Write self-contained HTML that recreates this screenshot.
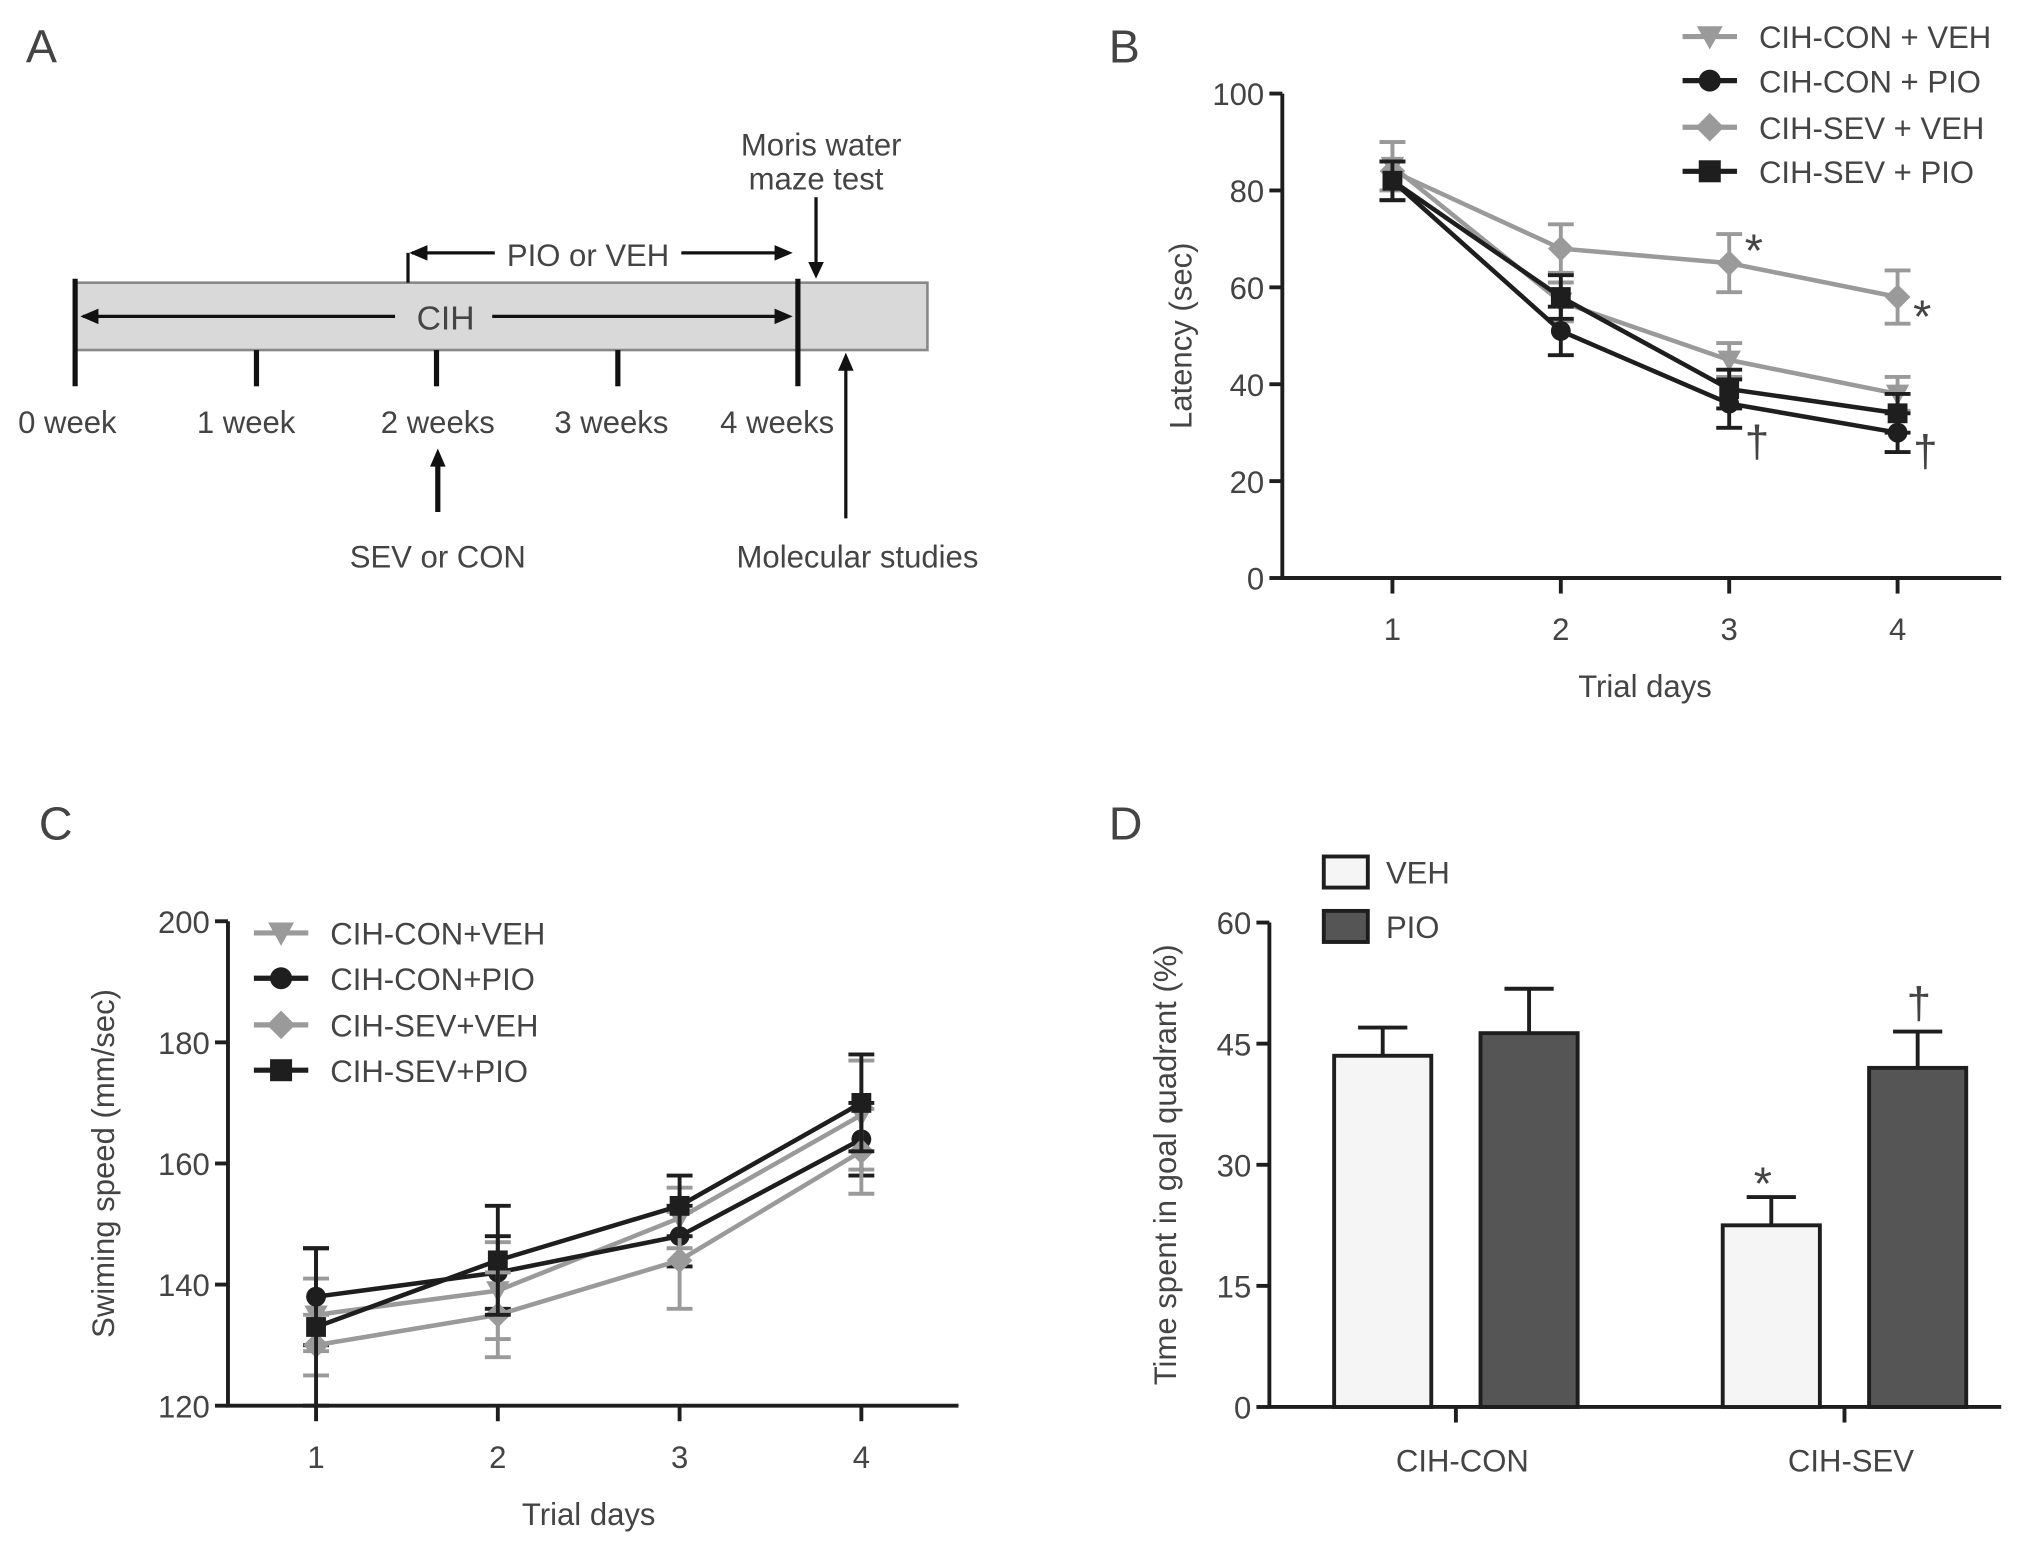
<!DOCTYPE html>
<html><head><meta charset="utf-8"><style>
html,body{margin:0;padding:0;background:#fff}
svg{display:block}
text{font-family:"Liberation Sans",Arial,sans-serif;fill:#444}
</style></head><body>
<svg id="fig" width="2031" height="1542" viewBox="0 0 1568 1190" xmlns="http://www.w3.org/2000/svg">
<g>
<text x="20" y="48" font-size="36">A</text>
<rect x="58" y="218" width="658" height="52" fill="#d9d9d9" stroke="#888" stroke-width="2"/>
<line x1="58" y1="215" x2="58" y2="298" stroke="#111" stroke-width="4"/>
<line x1="616" y1="215" x2="616" y2="298" stroke="#111" stroke-width="4"/>
<line x1="198" y1="270" x2="198" y2="298" stroke="#111" stroke-width="4"/>
<line x1="337" y1="270" x2="337" y2="298" stroke="#111" stroke-width="4"/>
<line x1="477" y1="270" x2="477" y2="298" stroke="#111" stroke-width="4"/>
<line x1="64" y1="244" x2="305" y2="244" stroke="#111" stroke-width="2.5"/>
<polygon points="62,244 76,238 76,250" fill="#111"/>
<line x1="380" y1="244" x2="608" y2="244" stroke="#111" stroke-width="2.5"/>
<polygon points="612,244 598,238 598,250" fill="#111"/>
<text x="344" y="254" font-size="26" text-anchor="middle">CIH</text>
<line x1="315" y1="218" x2="315" y2="195" stroke="#111" stroke-width="2.5"/>
<line x1="318" y1="195" x2="382" y2="195" stroke="#111" stroke-width="2.5"/>
<polygon points="316,195 330,189 330,201" fill="#111"/>
<line x1="526" y1="195" x2="608" y2="195" stroke="#111" stroke-width="2.5"/>
<polygon points="612,195 598,189 598,201" fill="#111"/>
<text x="454" y="205" font-size="24" text-anchor="middle">PIO or VEH</text>
<text x="634" y="120" font-size="24" text-anchor="middle">Moris water</text>
<text x="630" y="146" font-size="24" text-anchor="middle">maze test</text>
<line x1="630" y1="152" x2="630" y2="205" stroke="#111" stroke-width="2.5"/>
<polygon points="630,215 624,202 636,202" fill="#111"/>
<g font-size="24" text-anchor="middle">
<text x="52" y="334">0 week</text><text x="190" y="334">1 week</text><text x="338" y="334">2 weeks</text><text x="472" y="334">3 weeks</text><text x="600" y="334">4 weeks</text>
</g>
<line x1="338" y1="395" x2="338" y2="358" stroke="#111" stroke-width="4"/>
<polygon points="338,346 332,360 344,360" fill="#111"/>
<text x="338" y="438" font-size="24" text-anchor="middle">SEV or CON</text>
<line x1="653" y1="400" x2="653" y2="284" stroke="#111" stroke-width="2.5"/>
<polygon points="653,272 647,286 659,286" fill="#111"/>
<text x="662" y="438" font-size="24" text-anchor="middle">Molecular studies</text>
</g>
<text x="856" y="48" font-size="36">B</text>
<text x="30" y="648" font-size="36">C</text>
<text x="856" y="648" font-size="36">D</text>
<g id="gB"></g>
<g id="gC"></g>
<g id="gD"></g>
</svg>
<script>
const seriesNames=["CIH-CON+VEH","CIH-CON+PIO","CIH-SEV+VEH","CIH-SEV+PIO"];
const days=[1,2,3,4];
// Panel B latency
const bConVeh=[85,57,45,38], bConVehErr=[5,4,3.5,3.5];
const bConPio=[82,51,36,30], bConPioErr=[4,5,5,4];
const bSevVeh=[84,68,65,58], bSevVehErr=[6,5,6,5.5];
const bSevPio=[82,58,39,34], bSevPioErr=[4,4.5,4,4];
const bTicks=[0,20,40,60,80,100];
// Panel C swim speed
const cConVeh=[135,139,151,168], cConVehErr=[6,8,5,9];
const cConPio=[138,142,148,164], cConPioErr=[8,6,5,6];
const cSevVeh=[130,135,144,162], cSevVehErr=[5,7,8,7];
const cSevPio=[133,144,153,170], cSevPioErr=[13,9,5,8];
const cTicks=[120,140,160,180,200];
// Panel D bars
const dGroups=["CIH-CON","CIH-SEV"];
const dVeh=[43.5,22.5], dVehErr=[3.5,3.5];
const dPio=[46.3,42], dPioErr=[5.5,4.5];
const dTicks=[0,15,30,45,60];

const NS="http://www.w3.org/2000/svg";
function mk(p,tag,a,txt){const e=document.createElementNS(NS,tag);for(const k in a)e.setAttribute(k,a[k]);if(txt!=null)e.textContent=txt;p.appendChild(e);return e;}
const GR="#9a9a9a",BK="#1e1e1e";
const styles=[{c:GR,m:"tri"},{c:BK,m:"circ"},{c:GR,m:"dia"},{c:BK,m:"sq"}];
function marker(g,m,x,y,c,r){
 if(m==="tri")return mk(g,"polygon",{points:`${x-r},${y-r*0.8} ${x+r},${y-r*0.8} ${x},${y+r}`,fill:c});
 if(m==="circ")return mk(g,"circle",{cx:x,cy:y,r:r*0.85,fill:c});
 if(m==="dia")return mk(g,"polygon",{points:`${x},${y-r*1.1} ${x+r*1.1},${y} ${x},${y+r*1.1} ${x-r*1.1},${y}`,fill:c});
 return mk(g,"rect",{x:x-r*0.85,y:y-r*0.85,width:r*1.7,height:r*1.7,fill:c});
}
function lineChart(g,o){
 const sy=v=>o.y0-(v-o.vmin)/(o.vmax-o.vmin)*(o.y0-o.y1);
 const sx=d=>o.xs[0]+(d-1)*(o.xs[1]-o.xs[0])/3;
 const ax=mk(g,"path",{d:`M${o.ax},${o.y1} V${o.y0} H${o.xend}`,stroke:BK,"stroke-width":3,fill:"none"});
 
 
 o.ticks.forEach(t=>{mk(g,"line",{x1:o.ax-10,x2:o.ax,y1:sy(t),y2:sy(t),stroke:BK,"stroke-width":3});
  const tl=mk(g,"text",{x:o.ax-14,y:sy(t)+9,"font-size":24,"text-anchor":"end"},t);
  
  });
 days.forEach(d=>{mk(g,"line",{x1:sx(d),x2:sx(d),y1:o.y0,y2:o.y0+12,stroke:BK,"stroke-width":3});
  const tl=mk(g,"text",{x:sx(d),y:o.y0+48,"font-size":24,"text-anchor":"middle"},d);
  
  });
 const xt=mk(g,"text",{x:(sx(1)+sx(4))/2,y:o.y0+92,"font-size":24,"text-anchor":"middle"},"Trial days");
 
 
 const yt=mk(g,"text",{x:0,y:0,"font-size":24,"text-anchor":"middle",transform:`translate(${o.ylx},${(o.y0+o.y1)/2}) rotate(-90)`},o.ylab);
 
 
 o.data.forEach((s,i)=>{
  const st=styles[i];const sg=mk(g,"g",{});
  
  
  s.v.forEach((v,j)=>{const x=sx(days[j]);const top=sy(v+s.e[j]),bot=sy(v-s.e[j]);
   mk(sg,"line",{x1:x,x2:x,y1:top,y2:bot,stroke:st.c,"stroke-width":3});
   mk(sg,"line",{x1:x-10,x2:x+10,y1:top,y2:top,stroke:st.c,"stroke-width":3});
   mk(sg,"line",{x1:x-10,x2:x+10,y1:bot,y2:bot,stroke:st.c,"stroke-width":3});});
  mk(sg,"polyline",{points:s.v.map((v,j)=>sx(days[j])+","+sy(v)).join(" "),stroke:st.c,"stroke-width":3.5,fill:"none"});
  s.v.forEach((v,j)=>{const m=marker(sg,st.m,sx(days[j]),sy(v),st.c,9);
   
   });
 });
 const lg=mk(g,"g",{});
 
 
 seriesNames.forEach((n,i)=>{const y=o.leg.y[i];const st=styles[i];
  mk(lg,"line",{x1:o.leg.x,x2:o.leg.x+42,y1:y,y2:y,stroke:st.c,"stroke-width":4});
  marker(lg,st.m,o.leg.x+21,y,st.c,10);
  const t=mk(lg,"text",{x:o.leg.tx,y:y+9,"font-size":24},n.replace("+",o.leg.sep));
  
  });
 return {sx,sy};
}
const gB=document.getElementById("gB");
const B=lineChart(gB,{ax:990,y0:446,y1:72,xend:1545,vmin:0,vmax:100,xs:[1075,1465],ticks:bTicks,ylx:920,ylab:"Latency (sec)",
 data:[{v:bConVeh,e:bConVehErr},{v:bConPio,e:bConPioErr},{v:bSevVeh,e:bSevVehErr},{v:bSevPio,e:bSevPioErr}],
 leg:{x:1299,tx:1358,y:[28,62,98,132],sep:" + "}});
[[3,bSevVeh[2]+2],[4,bSevVeh[3]-2]].forEach(([d,v],k)=>{const t=mk(gB,"text",{x:B.sx(d)+12,y:B.sy(v)+(k?20:10),"font-size":36,"fill":"#555"},"*");
 
 });
[[3,bConPio[2]-3],[4,bConPio[3]+1]].forEach(([d,v])=>{const t=mk(gB,"text",{x:B.sx(d)+12,y:B.sy(v)+30,"font-size":34,"fill":"#555"},"†");
 
 });
const gC=document.getElementById("gC");
lineChart(gC,{ax:176,y0:1085,y1:711,xend:740,vmin:120,vmax:200,xs:[244,665],ticks:cTicks,ylx:88,ylab:"Swiming speed (mm/sec)",
 data:[{v:cConVeh,e:cConVehErr},{v:cConPio,e:cConPioErr},{v:cSevVeh,e:cSevVehErr},{v:cSevPio,e:cSevPioErr}],
 leg:{x:196,tx:255,y:[720,755,791,826],sep:"+"}});
// Panel D
const gD=document.getElementById("gD");
const dy0=1086,dy1=712,dax=980;
const dsy=v=>dy0-v/60*(dy0-dy1);
const grpX=[1124,1424];
mk(gD,"path",{d:`M${dax},${dy1} V${dy0} H1545`,stroke:BK,"stroke-width":3,fill:"none"});
dTicks.forEach(t=>{mk(gD,"line",{x1:dax-10,x2:dax,y1:dsy(t),y2:dsy(t),stroke:BK,"stroke-width":3});
 const tl=mk(gD,"text",{x:dax-14,y:dsy(t)+9,"font-size":24,"text-anchor":"end"},t);
 
 });
const dyt=mk(gD,"text",{x:0,y:0,"font-size":24,"text-anchor":"middle",transform:`translate(908,${(dy0+dy1)/2}) rotate(-90)`},"Time spent in goal quadrant (%)");


dGroups.forEach((gname,i)=>{const cx=grpX[i];
 mk(gD,"line",{x1:cx,x2:cx,y1:dy0,y2:dy0+12,stroke:BK,"stroke-width":3});
 const tl=mk(gD,"text",{x:cx+5,y:dy0+50,"font-size":24,"text-anchor":"middle"},gname);
 
 
 [[dVeh,dVehErr,"#f5f5f5",-94],[dPio,dPioErr,"#555",19]].forEach(([vals,errs,fill,off],k)=>{
  const x=cx+off,w=75,v=vals[i],top=dsy(v),et=dsy(v+errs[i]);
  mk(gD,"line",{x1:x+w/2,x2:x+w/2,y1:top,y2:et,stroke:BK,"stroke-width":3});
  mk(gD,"line",{x1:x+w/2-19,x2:x+w/2+19,y1:et,y2:et,stroke:BK,"stroke-width":3});
  const r=mk(gD,"rect",{x:x,y:top,width:w,height:dy0-top,fill:fill,stroke:BK,"stroke-width":3});
  
  
 });});
const ds=mk(gD,"text",{x:grpX[1]-70,y:dsy(dVeh[1]+dVehErr[1])+2,"font-size":36,"fill":"#555"},"*");


const dd=mk(gD,"text",{x:grpX[1]+48,y:dsy(dPio[1]+dPioErr[1])-10,"font-size":34,"fill":"#555"},"†");


const dl=mk(gD,"g",{});


[["VEH","#f5f5f5",661],["PIO","#555",703]].forEach(([n,f,y])=>{
 mk(dl,"rect",{x:1022,y:y,width:34,height:24,fill:f,stroke:BK,"stroke-width":3});
 const t=mk(dl,"text",{x:1070,y:y+21,"font-size":24},n);
 
 });
</script>
</body></html>
